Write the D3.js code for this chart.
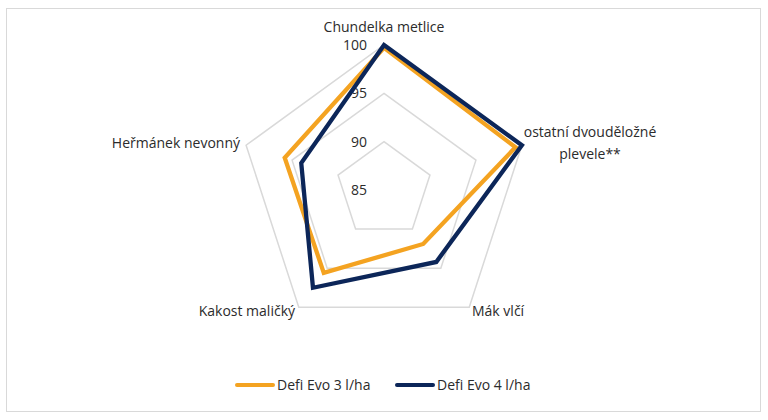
<!DOCTYPE html>
<html lang="cs">
<head>
<meta charset="UTF-8">
<title>Defi Evo radar</title>
<style>
  body { margin: 0; background: #fff; }
  text { font-family: "Open Sans", "Noto Sans", sans-serif; fill: #2b2b2b; }
</style>
</head>
<body>
<svg width="768" height="420"></svg>
<script src="https://cdn.jsdelivr.net/npm/d3@7"></script>
<script>
// data
var categories = ["Chundelka metlice", "ostatní dvouděložné plevele**", "Mák vlčí", "Kakost maličký", "Heřmánek nevonný"];
var seriesNames = ["Defi Evo 3 l/ha", "Defi Evo 4 l/ha"];
var defi3 = [99.7, 99.3, 91.9, 95.6, 95.8];
var defi4 = [100, 100, 94.2, 97.5, 94.0];
var ticks = [85, 90, 95, 100];

var colors = ["#f4a321", "#0c2659"];

var svg = d3.select("svg");
var cx = 384, cy = 190, R = 145;

svg.append("rect")
    .attr("x", 6.5).attr("y", 8.5)
    .attr("width", 754).attr("height", 403)
    .attr("fill", "none")
    .attr("stroke", "#d9d9d9");

var r = d3.scaleLinear().domain([85, 100]).range([0, R]);
var angle = d3.scaleLinear().domain([0, categories.length]).range([0, 2 * Math.PI]);

function pt(i, v) {
    var a = angle(i);
    return [cx + r(v) * Math.sin(a), cy - r(v) * Math.cos(a)];
}

var g = svg.append("g");

// grid pentagons
ticks.slice(1).forEach(function(t) {
    g.append("polygon")
        .attr("points", categories.map(function(c, i) { return pt(i, t).join(","); }).join(" "))
        .attr("fill", "none")
        .attr("stroke", "#d9d9d9")
        .attr("stroke-width", 1.5);
});

// tick labels
g.selectAll(".tick")
    .data(ticks)
    .enter().append("text")
    .attr("x", cx - 17)
    .attr("y", function(d) { return cy - r(d); })
    .attr("dy", "0.35em")
    .attr("text-anchor", "end")
    .attr("font-size", "14px")
    .text(function(d) { return d; });

// series
var line = d3.line()
    .x(function(d, i) { return pt(i, d)[0]; })
    .y(function(d, i) { return pt(i, d)[1]; })
    .curve(d3.curveLinearClosed);

[defi3, defi4].forEach(function(s, k) {
    g.append("path")
        .datum(s)
        .attr("d", line)
        .attr("fill", "none")
        .attr("stroke", colors[k])
        .attr("stroke-width", 4.3)
        .attr("stroke-linejoin", "miter");
});

// category labels
var labelPos = [
    {x: 384, y: 27, anchor: "middle"},
    {x: 590, y: 132, anchor: "middle"},
    {x: 472, y: 311, anchor: "start"},
    {x: 295, y: 311, anchor: "end"},
    {x: 240, y: 143, anchor: "end"}
];
categories.forEach(function(c, i) {
    var p = labelPos[i];
    var t = svg.append("text")
        .attr("x", p.x)
        .attr("y", p.y)
        .attr("text-anchor", p.anchor)
        .attr("font-size", "14px")
        .attr("dy", "0.35em");
    if (i === 1) {
        t.append("tspan").attr("x", p.x).text("ostatní dvouděložné");
        t.append("tspan").attr("x", p.x).attr("dy", "1.6em").text("plevele**");
    } else {
        t.text(c);
    }
});

// legend
var legendX = [237, 397];
seriesNames.forEach(function(n, k) {
    svg.append("line")
        .attr("x1", legendX[k]).attr("x2", legendX[k] + 36)
        .attr("y1", 385).attr("y2", 385)
        .attr("stroke", colors[k])
        .attr("stroke-width", 4)
        .attr("stroke-linecap", "round");
    svg.append("text")
        .attr("x", legendX[k] + 40)
        .attr("y", 385)
        .attr("dy", "0.35em")
        .attr("font-size", "14px")
        .text(n);
});
</script>
</body>
</html>
